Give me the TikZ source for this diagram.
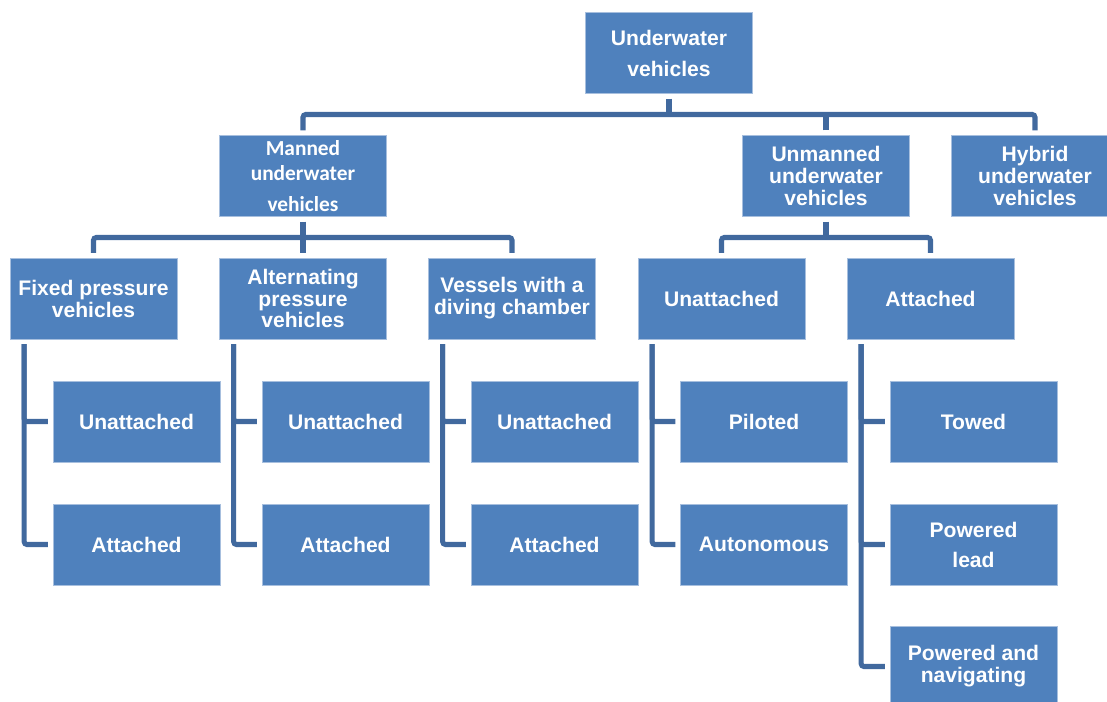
\documentclass[tikz,border=0pt]{standalone}
\usepackage{fontspec}
\setmainfont{Liberation Sans}
\newfontfamily\carlitofont{Carlito}
\usetikzlibrary{positioning}
\definecolor{BoxBlue}{RGB}{79,129,189}
\definecolor{BoxEdge}{RGB}{167,191,222}
\definecolor{LinkBlue}{RGB}{65,105,158}
\tikzset{vehicle box/.style={
    rectangle,
    draw=BoxEdge,
    line width=0.6pt,
    fill=BoxBlue,
    text=white,
    align=center,
    minimum height=2.025cm,
    minimum width=4.175cm,
    outer sep=0.125cm,
    font=\bfseries\fontsize{15}{15.6}\selectfont
}}
\tikzset{vehicle box calibri/.style={
    vehicle box,
    font=\carlitofont\bfseries\fontsize{15.2}{15.6}\selectfont
}}
\tikzset{link line/.style={
    draw=LinkBlue,
    line width=3.6pt,
    rounded corners=2pt
}}
\begin{document}
\begin{tikzpicture}[x=0.025cm, y=-0.025cm]
    \useasboundingbox (0,0) rectangle (1107,702);

    % levels 1 and 2
    \node[vehicle box] (top) at (669,53) {Underwater\\[6.4pt]vehicles};
    \node[vehicle box calibri] (manned) at (303,176) {Manned\\[2.2pt]underwater\\[6.4pt]vehicles};
    \node[vehicle box] (unmanned) at (826,176) {Unmanned\\underwater\\vehicles};
    \node[vehicle box] (hybrid) at (1035,176) {Hybrid\\underwater\\vehicles};

    % level 3
    \node[vehicle box] (fixed) at (93.5,298.5) {Fixed pressure\\vehicles};
    \node[vehicle box] (alternating) at (303,298.5) {Alternating\\pressure\\vehicles};
    \node[vehicle box] (vessels) at (512,298.5) {Vessels with a\\diving chamber};
    \node[vehicle box] (unatt) at (721.5,298.5) {Unattached};
    \node[vehicle box] (att) at (930.5,298.5) {Attached};

    % level 4
    \node[vehicle box] (fixunatt) at (136.5,421.5) {Unattached};
    \node[vehicle box] (fixatt) at (136.5,544.5) {Attached};
    \node[vehicle box] (altunatt) at (345.5,421.5) {Unattached};
    \node[vehicle box] (altatt) at (345.5,544.5) {Attached};
    \node[vehicle box] (vesunatt) at (554.5,421.5) {Unattached};
    \node[vehicle box] (vesatt) at (554.5,544.5) {Attached};
    \node[vehicle box] (piloted) at (764,421.5) {Piloted};
    \node[vehicle box] (autonomous) at (764,544.5) {Autonomous};
    \node[vehicle box] (towed) at (973.5,421.5) {Towed};
    \node[vehicle box] (poweredlead) at (973.5,544.5) {Powered\\[5.7pt]lead};
    \node[vehicle box] (powerednav) at (973.5,666.5) {Powered and\\navigating};

    % buses
    \coordinate (bus) at (0,114.5);
    \coordinate (mbus) at (0,237.5);
    \coordinate (ubus) at (0,237.5);
    \draw[link line] (top.south) -- (top.south |- bus);
    \draw[link line] (manned.north) |- (hybrid.north |- bus) -- (hybrid.north);
    \draw[link line] (unmanned.north) -- (unmanned.north |- bus);
    \draw[link line] (manned.south) -- (manned.south |- mbus);
    \draw[link line] (fixed.north) |- (vessels.north |- mbus) -- (vessels.north);
    \draw[link line] (alternating.north) -- (alternating.north |- mbus);
    \draw[link line] (unmanned.south) -- (unmanned.south |- ubus);
    \draw[link line] (unatt.north) |- (att.north |- ubus) -- (att.north);

    % hanging children
    \foreach \p/\c in {fixed/fixunatt, fixed/fixatt, alternating/altunatt, alternating/altatt,
                       vessels/vesunatt, vessels/vesatt, unatt/piloted, unatt/autonomous,
                       att/towed, att/poweredlead, att/powerednav}
        \draw[link line] ([xshift=0.48cm]\p.south west) |- (\c.west);
\end{tikzpicture}
\end{document}
